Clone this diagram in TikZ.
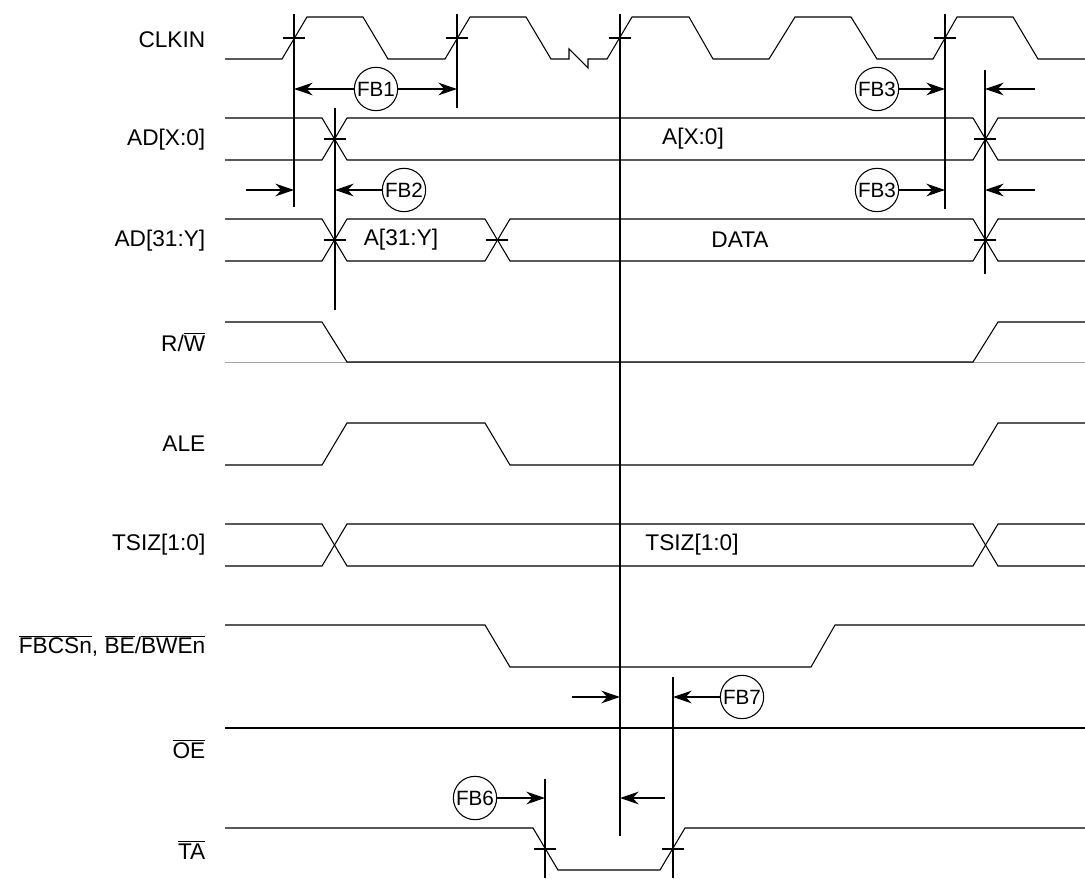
\documentclass[tikz,border=0pt]{standalone}
\usepackage{fontspec}
\setmainfont{Liberation Sans}
\usetikzlibrary{arrows.meta}
\newcommand{\ovl}[1]{$\overline{\mbox{#1}}$}

\begin{document}
\begin{tikzpicture}[x=0.75pt,y=-0.75pt,
   sig/.style={line width=0.8pt,line join=miter},
   marker/.style={line width=1.5pt},
   dim/.style={line width=1.5pt,-{Stealth[length=14pt,width=9.5pt]}},
   fbtag/.style={draw,circle,fill=white,line width=0.8pt,inner sep=0pt,
      minimum size=32.5pt,font=\fontsize{15.5}{15.5}\selectfont},
   signame/.style={anchor=east,font=\fontsize{17}{17}\selectfont},
   busname/.style={font=\fontsize{17}{17}\selectfont}]
\useasboundingbox (0,0) rectangle (1085,878);

% signal names
\node[signame] (lclk) at (210,40) {CLKIN};
\node[signame] (ladx) at (210,140) {AD[X:0]};
\node[signame] (lady) at (210,241) {AD[31:Y]};
\node[signame] (lrw)  at (210,342) {R/\ovl{W}};
\node[signame] (lale) at (210,444) {ALE};
\node[signame] (ltsz) at (210,545) {TSIZ[1:0]};
\node[signame] (lcs)  at (210,646) {\ovl{FBCSn}, \ovl{BE}/\ovl{BWEn}};
\node[signame] (loe)  at (210,749) {\ovl{OE}};
\node[signame] (lta)  at (210,850) {\ovl{TA}};

% CLKIN
\draw[sig] (225,59) -- (282,59) -- (307,17) -- (363,17) -- (388,59) -- (445,59)
   -- (470,17) -- (526,17) -- (551,59) -- (569,59) -- (569,49) -- (588,68)
   -- (588,59) -- (607,59) -- (632,17) -- (689,17) -- (713,59) -- (769,59)
   -- (795,17) -- (851,17) -- (877,59) -- (933,59) -- (957,17) -- (1013,17)
   -- (1038,59) -- (1085,59);

% AD[X:0]
\draw[sig] (225,118) -- (322,118) -- (347,160) -- (973,160) -- (998,118) -- (1085,118);
\draw[sig] (225,160) -- (322,160) -- (347,118) -- (973,118) -- (998,160) -- (1085,160);
\node[busname] (badx) at (693,139) {A[X:0]};

% AD[31:Y]
\draw[sig] (225,219) -- (322,219) -- (347,261) -- (485,261) -- (510,219) -- (973,219)
   -- (998,261) -- (1085,261);
\draw[sig] (225,261) -- (322,261) -- (347,219) -- (485,219) -- (510,261) -- (973,261)
   -- (998,219) -- (1085,219);
\node[busname] (bady) at (401,240) {A[31:Y]};
\node[busname] (bdat) at (740,240) {DATA};

% R/W
\draw[sig,gray!70,line width=0.6pt] (225,362) -- (1085,362);
\draw[sig] (225,322) -- (322,322) -- (347,362) -- (973,362) -- (998,322) -- (1085,322);

% ALE
\draw[sig] (225,465) -- (322,465) -- (347,423) -- (485,423) -- (510,465) -- (973,465)
   -- (998,423) -- (1085,423);

% TSIZ[1:0]
\draw[sig] (225,524) -- (322,524) -- (347,566) -- (973,566) -- (998,524) -- (1085,524);
\draw[sig] (225,566) -- (322,566) -- (347,524) -- (973,524) -- (998,566) -- (1085,566);
\node[busname] (btsz) at (692,545) {TSIZ[1:0]};

% FBCSn, BE/BWEn
\draw[sig] (225,625) -- (485,625) -- (510,667) -- (811,667) -- (835,625) -- (1085,625);

% OE
\draw[sig,line width=1pt] (225,728) -- (1085,728);

% TA
\draw[sig] (225,828) -- (533,828) -- (558,870) -- (660,870) -- (685,828) -- (1085,828);

% reference lines
\coordinate (v1t) at (294,14);  \coordinate (v1b) at (294,207);
\coordinate (v2t) at (457,14);  \coordinate (v2b) at (457,108);
\coordinate (v3t) at (620,14);  \coordinate (v3b) at (620,836);
\coordinate (v4t) at (945,14);  \coordinate (v4b) at (945,209);
\coordinate (v5t) at (985,70);  \coordinate (v5b) at (985,274);
\coordinate (v6t) at (335,108); \coordinate (v6b) at (335,310);
\coordinate (v7t) at (545,779); \coordinate (v7b) at (545,878);
\coordinate (v8t) at (673,677); \coordinate (v8b) at (673,878);
\foreach \v in {v1,v2,v3,v4,v5,v6,v7,v8}
   \draw[marker] (\v t) -- (\v b);

% crossing ticks
\foreach \x/\y in {294/38,457/38,620/38,945/38,335/139,985/139,335/240,497/240,
   985/240,545/849,673/849}
   \draw[marker] (\x-11,\y) -- (\x+11,\y);

% timing tags
\node[fbtag] (fb1) at (376,89) {FB1};
\node[fbtag] (fb2) at (404,190) {FB2};
\node[fbtag] (fb3a) at (877,89) {FB3};
\node[fbtag] (fb3b) at (877,190) {FB3};
\node[fbtag] (fb7) at (742,697) {FB7};
\node[fbtag] (fb6) at (475,798) {FB6};

\coordinate (t2) at (246,190);
\coordinate (t3a) at (1035,89);
\coordinate (t3b) at (1035,190);
\coordinate (t7) at (572,697);
\coordinate (t6) at (665,798);

\draw[dim] (fb1) -- (fb1 -| v1t);
\draw[dim] (fb1) -- (fb1 -| v2t);
\draw[dim] (t2) -- (t2 -| v1t);
\draw[dim] (fb2) -- (fb2 -| v6t);
\draw[dim] (fb3a) -- (fb3a -| v4t);
\draw[dim] (t3a) -- (t3a -| v5t);
\draw[dim] (fb3b) -- (fb3b -| v4t);
\draw[dim] (t3b) -- (t3b -| v5t);
\draw[dim] (t7) -- (t7 -| v3t);
\draw[dim] (fb7) -- (fb7 -| v8t);
\draw[dim] (fb6) -- (fb6 -| v7t);
\draw[dim] (t6) -- (t6 -| v3t);
\end{tikzpicture}
\end{document}
